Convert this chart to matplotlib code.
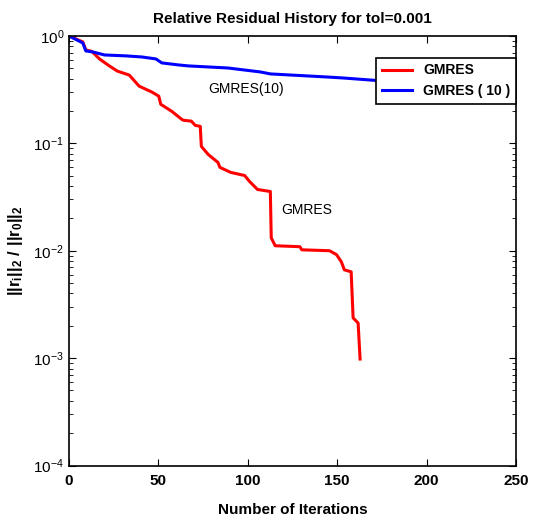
import numpy as np
import matplotlib
matplotlib.use('Agg')
import matplotlib.pyplot as plt

plt.rcParams['font.family'] = 'Liberation Sans'
plt.rcParams['mathtext.fontset'] = 'custom'
plt.rcParams['mathtext.rm'] = 'Liberation Sans:bold'
plt.rcParams['mathtext.bf'] = 'Liberation Sans:bold'
plt.rcParams['mathtext.it'] = 'Liberation Sans:bold'
plt.rcParams['mathtext.default'] = 'bf'

# full GMRES residual history
gmres_it = [0, 7.7, 9.4, 12.7, 17.1, 22.6, 27, 33.7, 39.2, 46.4, 50.2, 51.3, 57.4,
            62.9, 64, 68.4, 70.6, 73.4, 74, 77.8, 83.3, 84.4, 90.5, 98.2, 101,
            105.4, 112.6, 113.1, 115.3, 129.1, 130.2, 145.7, 149.6, 152.3, 154,
            157.8, 158.9, 161.7, 162.8]
gmres_res = [1.0, 0.88, 0.74, 0.72, 0.61, 0.525, 0.471, 0.432, 0.341, 0.30, 0.275,
             0.231, 0.199, 0.168, 0.164, 0.161, 0.147, 0.144, 0.0938, 0.0789,
             0.0664, 0.0597, 0.0536, 0.0502, 0.0441, 0.0372, 0.0356, 0.0132,
             0.01113, 0.0109, 0.0102, 0.0100, 0.0092, 0.0079, 0.00664, 0.00636,
             0.00237, 0.00212, 0.00098]

# restarted GMRES(10)
gmres10_it = [0, 7.7, 9.4, 13.2, 19.9, 32, 40.8, 48.6, 51.9, 61.3, 66.8, 88.9,
              107.1, 112.6, 144, 153.4, 175.5, 200, 225, 250]
gmres10_res = [1.0, 0.86, 0.725, 0.71, 0.665, 0.652, 0.637, 0.611, 0.561, 0.537,
               0.526, 0.503, 0.462, 0.443, 0.415, 0.406, 0.381, 0.376, 0.372, 0.368]

fig = plt.figure(figsize=(5.33, 5.21), dpi=100)
ax = fig.add_axes([0.1295, 0.1065, 0.8386, 0.8245])

ax.plot(gmres_it, gmres_res, color='red', lw=2.2, label='GMRES')
ax.plot(gmres10_it, gmres10_res, color='blue', lw=2.2, label='GMRES ( 10 )')

ax.set_yscale('log')
ax.set_xlim(0, 250)
ax.set_ylim(1e-4, 1)
ax.set_xticks([0, 50, 100, 150, 200, 250])
ax.set_yticks([1e-4, 1e-3, 1e-2, 1e-1, 1])
ax.tick_params(which='both', direction='in', top=True, right=True, labelsize=11)
ax.tick_params(axis='x', pad=6)
ax.tick_params(which='major', length=5)
ax.tick_params(which='minor', length=3)
for lab in ax.get_xticklabels():
    lab.set_fontweight('bold')
for sp in ax.spines.values():
    sp.set_linewidth(1.2)

ax.set_title('Relative Residual History for tol=0.001', fontsize=11, fontweight='bold', pad=9)
ax.set_xlabel('Number of Iterations', fontsize=11, fontweight='bold', labelpad=11)
ax.set_ylabel(r'$||r_i||_2\ /\ ||r_0||_2$', fontsize=12, labelpad=6)

ax.text(99, 0.321, 'GMRES(10)', fontsize=10, ha='center', va='center')
ax.text(133, 0.024, 'GMRES', fontsize=10, ha='center', va='center')

leg = ax.legend(loc='upper right', bbox_to_anchor=(1.0, 0.949), borderaxespad=0,
                fancybox=False, framealpha=1, edgecolor='black',
                prop={'weight': 'bold', 'size': 10}, handlelength=2.2)
leg.get_frame().set_linewidth(1.2)

plt.savefig('out.png', dpi=100)
